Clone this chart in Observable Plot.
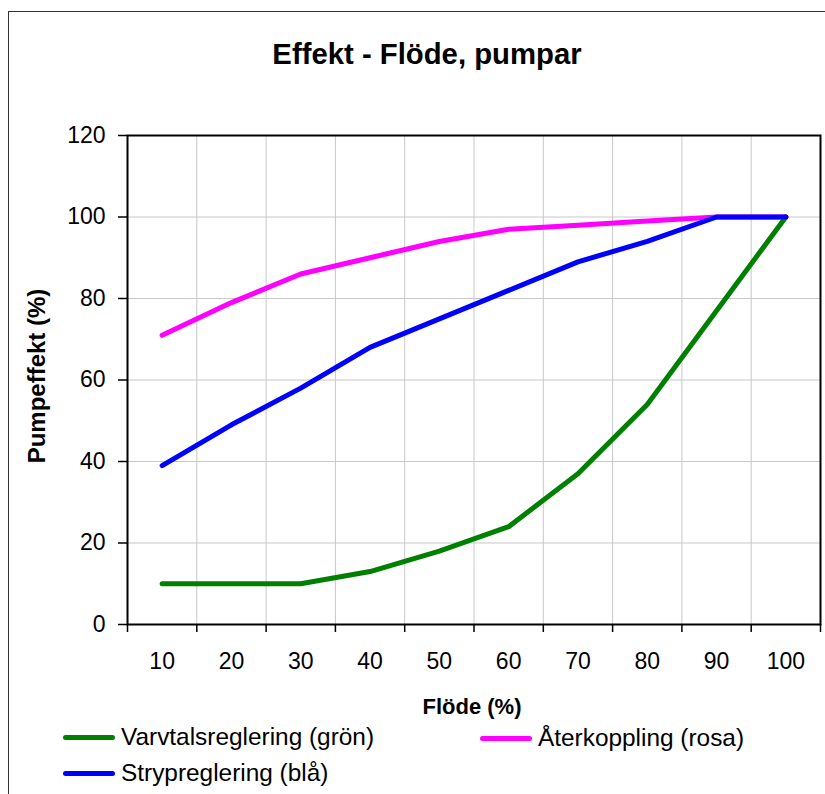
<!DOCTYPE html>
<html>
<head>
<meta charset="utf-8">
<script src="https://cdn.jsdelivr.net/npm/d3@7"></script>
<script src="https://cdn.jsdelivr.net/npm/@observablehq/plot@0.6"></script>
<style>
  html, body { margin: 0; padding: 0; background: #fff; }
  #wrap { position: relative; width: 825px; height: 794px; overflow: hidden; font-family: "Liberation Sans", Arial, sans-serif; color: #000; }
  #outer { position: absolute; left: 8px; top: 11px; width: 900px; height: 900px; border: 1.5px solid #333; box-sizing: border-box; }
  #chart { position: absolute; left: 0; top: 0; }
  .t { position: absolute; white-space: nowrap; line-height: 1; }
  #title { left: 227px; width: 400px; text-align: center; top: 38.5px; font-size: 29.3px; font-weight: bold; }
  #xtitle { left: 372px; width: 200px; text-align: center; top: 696px; font-size: 22px; font-weight: bold; }
  #ytitle { left: 36.7px; top: 376px; font-size: 24px; font-weight: bold; transform: translate(-50%, -50%) rotate(-90deg); }
  .leg { position: absolute; white-space: nowrap; font-size: 24.4px; line-height: 1; display: flex; align-items: center; }
  .sw { display: inline-block; width: 52px; height: 5px; border-radius: 3px; margin-right: 6px; }
</style>
</head>
<body>
<div id="wrap">
  <div id="outer"></div>
  <div id="chart"></div>
  <div class="t" id="title"></div>
  <div class="t" id="xtitle"></div>
  <div class="t" id="ytitle"></div>
  <div id="legend"></div>
</div>
<script>
// ---- data ----
const chartTitle = "Effekt - Flöde, pumpar";
const xTitle = "Flöde (%)";
const yTitle = "Pumpeffekt (%)";
const flow = [10, 20, 30, 40, 50, 60, 70, 80, 90, 100];
const varvtal = [10, 10, 10, 13, 18, 24, 37, 54, 77, 100];
const aterkoppling = [71, 79, 86, 90, 94, 97, 98, 99, 100, 100];
const stryp = [39, 49, 58, 68, 75, 82, 89, 94, 100, 100];
const seriesNames = ["Varvtalsreglering (grön)", "Återkoppling (rosa)", "Strypreglering (blå)"];
const seriesColors = ["#008000", "#ff00ff", "#0000ff"];
const yTicks = [0, 20, 40, 60, 80, 100, 120];
const xBounds = [5, 15, 25, 35, 45, 55, 65, 75, 85, 95, 105];

const seriesValues = [varvtal, aterkoppling, stryp];
const rows = [];
seriesNames.forEach((name, i) => flow.forEach((f, j) => rows.push({series: name, flow: f, value: seriesValues[i][j]})));

const plot = Plot.plot({
  width: 825,
  height: 794,
  marginLeft: 127,
  marginRight: 5,
  marginTop: 135,
  marginBottom: 170,
  x: {domain: [xBounds[0], xBounds[xBounds.length - 1]]},
  y: {domain: [yTicks[0], yTicks[yTicks.length - 1]]},
  color: {domain: seriesNames, range: seriesColors},
  style: {fontFamily: "Liberation Sans, Arial, sans-serif", fontSize: "23px", background: "transparent", color: "#000"},
  marks: [
    Plot.gridX(xBounds.slice(1, -1), {stroke: "#c8c8c8", strokeOpacity: 1, strokeWidth: 1}),
    Plot.gridY(yTicks.slice(1, -1), {stroke: "#c8c8c8", strokeOpacity: 1, strokeWidth: 1}),
    Plot.frame({stroke: "#000", strokeWidth: 2}),
    Plot.line(rows, {x: "flow", y: "value", z: "series", stroke: "series", strokeWidth: 5, strokeLinecap: "round", strokeLinejoin: "round"}),
    Plot.axisY(yTicks, {tickSize: 9, tickPadding: 13, label: null, strokeWidth: 1.5}),
    Plot.axisX(xBounds, {tickSize: 8, tickFormat: () => "", label: null, strokeWidth: 1.5}),
    Plot.axisX(flow, {tickSize: 0, tickPadding: 28, label: null})
  ]
});
document.getElementById("chart").appendChild(plot);

document.getElementById("title").textContent = chartTitle;
document.getElementById("xtitle").textContent = xTitle;
document.getElementById("ytitle").textContent = yTitle;

// legend (Excel-style two columns)
const legPos = [
  {left: 63, top: 725},
  {left: 480, top: 726},
  {left: 63, top: 761}
];
const legend = document.getElementById("legend");
seriesNames.forEach((name, i) => {
  const d = document.createElement("div");
  d.className = "leg";
  d.style.left = legPos[i].left + "px";
  d.style.top = legPos[i].top + "px";
  const sw = document.createElement("span");
  sw.className = "sw";
  sw.style.background = seriesColors[i];
  const tx = document.createElement("span");
  tx.textContent = name;
  d.appendChild(sw);
  d.appendChild(tx);
  legend.appendChild(d);
});
</script>
</body>
</html>
